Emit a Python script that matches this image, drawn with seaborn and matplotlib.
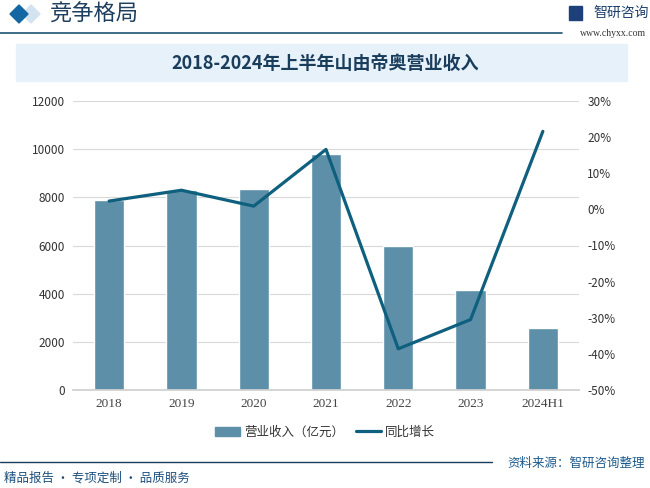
import matplotlib
matplotlib.use("Agg")
import matplotlib.pyplot as plt
import matplotlib.patches as mpatches
from matplotlib.lines import Line2D
import seaborn as sns
import pandas as pd

# data
years = ["2018", "2019", "2020", "2021", "2022", "2023", "2024H1"]
revenue = [7900, 8300, 8360, 9810, 5980, 4150, 2580]       # 亿元
growth = [2.3, 5.3, 0.9, 16.6, -38.6, -30.5, 21.6]         # %

left_ticks = [0, 2000, 4000, 6000, 8000, 10000, 12000]
right_ticks = [-50, -40, -30, -20, -10, 0, 10, 20, 30]

bar_color = "#5d90a8"
line_color = "#0f607f"
navy = "#1a3d5c"

sns.set_theme(style="white")
plt.rcParams["font.family"] = ["Noto Sans CJK SC", "DejaVu Sans"]

df = pd.DataFrame({"year": years, "revenue": revenue, "growth": growth})

fig = plt.figure(figsize=(6.5, 4.88), dpi=100)
W, H = 650, 488

def fx(x):
    return x / W

def fy(y):
    return 1 - y / H

def diamond(cx, cy, r, color, z):
    pts = [[fx(cx - r), fy(cy)], [fx(cx), fy(cy - r)],
           [fx(cx + r), fy(cy)], [fx(cx), fy(cy + r)]]
    fig.patches.append(mpatches.Polygon(pts, closed=True, transform=fig.transFigure,
                                        color=color, zorder=z))

# header
diamond(31, 14, 9, "#d3e3ef", 0)
diamond(19, 14, 9, "#1567a3", 1)
fig.text(fx(49), fy(14), "竞争格局", fontsize=16, color="#1e3f5f",
         va="center", ha="left", fontweight="medium")
fig.add_artist(Line2D([0, fx(562)], [fy(33), fy(33)], color="#1a5476", lw=1.2))
fig.patches.append(mpatches.Rectangle((fx(569), fy(20)), 13 / W, 14 / H,
                                      transform=fig.transFigure, color="#1d3f7a"))
fig.text(fx(593), fy(13), "智研咨询", fontsize=10, color="#1a3d6b", va="center")
fig.text(fx(646), fy(33), "www.chyxx.com", fontsize=7, color="#333333",
         va="center", ha="right", family="Liberation Serif")

# title band
fig.patches.append(mpatches.Rectangle((fx(16), fy(81)), 611 / W, 37 / H,
                                      transform=fig.transFigure, color="#e6f1f9"))
fig.text(0.5, fy(63), "2018-2024年上半年山由帝奥营业收入", fontsize=13,
         color=navy, ha="center", va="center", fontweight="bold")

# main axes
ax = fig.add_axes([fx(73), fy(390), (579 - 73) / W, (390 - 101) / H])
sns.barplot(data=df, x="year", y="revenue", color=bar_color, width=0.42,
            saturation=1, ax=ax, zorder=2)
ax.set_ylim(0, 12000)
ax.set_yticks(left_ticks)
ax.set_yticklabels([str(v) for v in left_ticks], fontsize=8.5, color="#333333")
ax.set_xlabel("")
ax.set_ylabel("")
ax.tick_params(axis="x", labelsize=8.5, labelcolor="#444444", length=0, pad=6)
ax.tick_params(axis="y", length=0, pad=6)
ax.grid(axis="y", color="#d9d9d9", lw=0.8, zorder=0)
for s in ["top", "right", "left"]:
    ax.spines[s].set_visible(False)
ax.spines["bottom"].set_color("#d0d0d0")
for lbl in ax.get_xticklabels():
    lbl.set_family("Liberation Serif")
    lbl.set_fontsize(9.5)

ax2 = ax.twinx()
sns.lineplot(x=list(range(len(years))), y=growth, ax=ax2, color=line_color,
             lw=2.3, zorder=3)
ax2.set_ylim(-50, 30)
ax2.set_yticks(right_ticks)
ax2.set_yticklabels([f"{v}%" for v in right_ticks], fontsize=8.5, color="#333333")
ax2.tick_params(axis="y", length=0, pad=6)
ax2.set_ylabel("")
for s in ["top", "right", "left", "bottom"]:
    ax2.spines[s].set_visible(False)
ax.set_xlim(-0.5, len(years) - 0.5)

# legend
handles = [mpatches.Patch(color=bar_color, label="营业收入（亿元）"),
           Line2D([0], [0], color=line_color, lw=2.3, label="同比增长")]
fig.legend(handles=handles, loc="center", bbox_to_anchor=(0.5, fy(432)), ncol=2,
           frameon=False, fontsize=9, handlelength=2.0, columnspacing=1.0,
           handletextpad=0.3, labelcolor="#333333")

# footer
fig.add_artist(Line2D([0, fx(492)], [fy(462), fy(462)], color=navy, lw=1.0))
fig.text(fx(645), fy(463), "资料来源：智研咨询整理", fontsize=9, color="#1d5a8c",
         ha="right", va="center")
fig.text(fx(4), fy(478), "精品报告 · 专项定制 · 品质服务", fontsize=9, color="#1d4f7c",
         ha="left", va="center")

fig.savefig("out.png", dpi=100)
